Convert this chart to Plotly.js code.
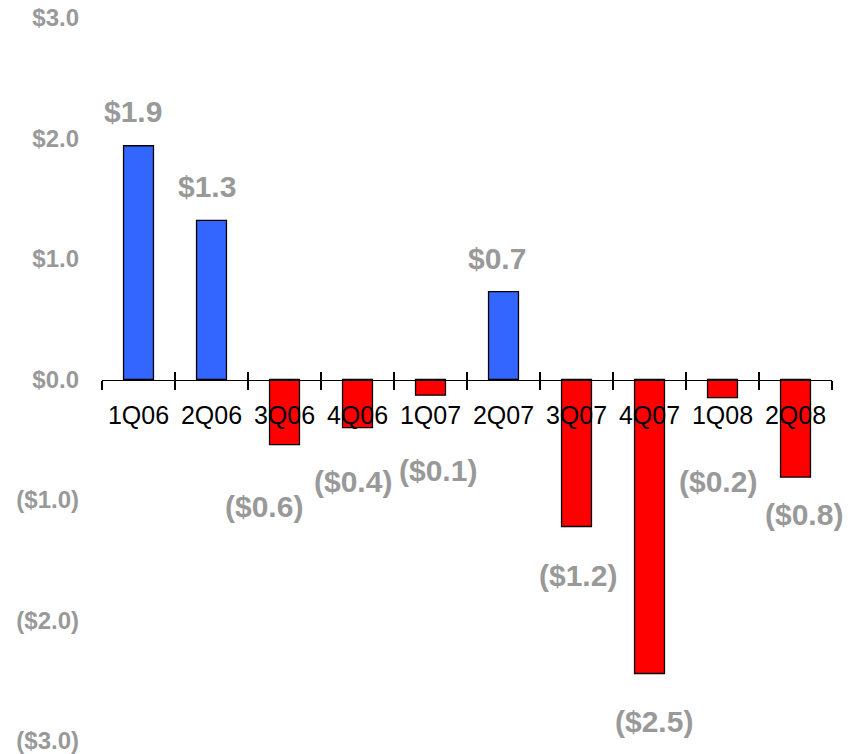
<!DOCTYPE html>
<html>
<head>
<meta charset="utf-8">
<script src="https://cdn.plot.ly/plotly-3.0.1.min.js"></script>
<style>html,body{margin:0;padding:0;background:#fff;}#chart{width:862px;height:754px;}</style>
</head>
<body>
<div id="chart"></div>
<script>
// ---- data ----
const quarters = ['1Q06','2Q06','3Q06','4Q06','1Q07','2Q07','3Q07','4Q07','1Q08','2Q08'];
const values = [1.94, 1.32, -0.54, -0.40, -0.13, 0.73, -1.22, -2.44, -0.15, -0.81];
const valueLabels = ['$1.9','$1.3','($0.6)','($0.4)','($0.1)','$0.7','($1.2)','($2.5)','($0.2)','($0.8)'];
const yTickVals = [3, 2, 1, 0, -1, -2, -3];
const yTickText = ['$3.0','$2.0','$1.0','$0.0','($1.0)','($2.0)','($3.0)'];

// ---- label placement offsets (pixels) ----
const labelXShift = [-6, -5, -21, -5, 7, -7, 1, 4, -5, 8];
const labelYGap   = [34, 34, 62, 54, 75, 33, 49, 48, 84, 37];

const FONT = 'Arial, "Liberation Sans", sans-serif';
const GRAY = '#999999';

const colors = values.map(v => v >= 0 ? '#3366FF' : '#FF0000');

const trace = {
  type: 'bar',
  x: quarters,
  y: values,
  width: 0.41,
  marker: {color: colors, line: {color: '#000000', width: 1.3}},
  hoverinfo: 'skip'
};

const annotations = quarters.map((q, i) => ({
  x: q, y: values[i], xref: 'x', yref: 'y',
  text: valueLabels[i], showarrow: false,
  xanchor: 'center', yanchor: 'middle',
  xshift: labelXShift[i],
  yshift: values[i] >= 0 ? labelYGap[i] : -labelYGap[i],
  font: {family: FONT, size: 30, color: GRAY, weight: 'bold'}
}));

const n = quarters.length;
const boundaries = [];
for (let i = 0; i <= n; i++) boundaries.push(i - 0.5);

const layout = {
  width: 862, height: 754,
  margin: {l: 102, r: 30, t: 18, b: 13},
  paper_bgcolor: '#ffffff', plot_bgcolor: '#ffffff',
  showlegend: false,
  xaxis: {
    type: 'category',
    range: [-0.5, n - 0.5],
    anchor: 'free', position: 0.5,
    showline: true, linecolor: '#000000', linewidth: 1.5,
    ticks: 'outside', ticklen: 9, tickwidth: 1.5, tickcolor: '#000000',
    tickson: 'boundaries',
    showgrid: false, zeroline: false,
    tickfont: {family: FONT, size: 25, color: '#000000'},
    ticklabelstandoff: 13,
    fixedrange: true
  },
  xaxis2: {
    overlaying: 'x',
    range: [-0.5, n - 0.5],
    anchor: 'free', position: 0.5,
    showline: false,
    tickmode: 'array', tickvals: boundaries,
    ticks: 'inside', ticklen: 8, tickwidth: 1.5, tickcolor: '#000000',
    showticklabels: false, showgrid: false, zeroline: false,
    fixedrange: true
  },
  yaxis: {
    range: [-3, 3],
    tickmode: 'array', tickvals: yTickVals, ticktext: yTickText,
    showline: false, showgrid: false, zeroline: false, ticks: '',
    tickfont: {family: FONT, size: 24, color: GRAY, weight: 'bold'},
    ticklabelstandoff: 22,
    ticklabeloverflow: 'allow',
    fixedrange: true
  },
  annotations: annotations
};

const dummy = {type: 'scatter', x: [0], y: [0], xaxis: 'x2', yaxis: 'y', mode: 'markers', marker: {opacity: 0}, hoverinfo: 'skip'};

Plotly.newPlot('chart', [trace, dummy], layout, {staticPlot: true, displayModeBar: false});
</script>
</body>
</html>
